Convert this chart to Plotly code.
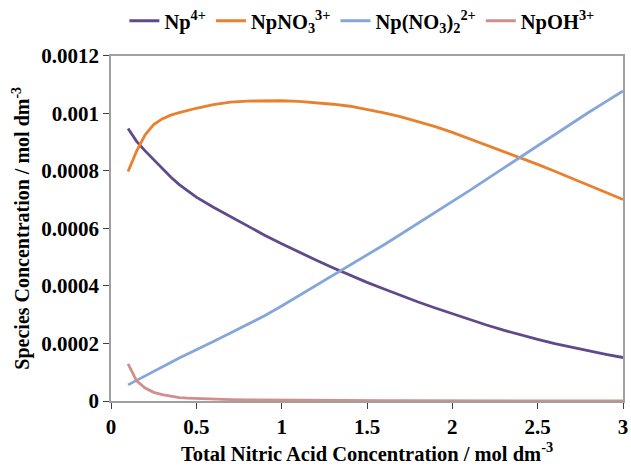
import plotly.graph_objects as go

x_hno3 = [0.1, 0.15, 0.2, 0.25, 0.3, 0.35, 0.4, 0.45, 0.5, 0.6, 0.7, 0.8, 0.9, 1.0,
          1.1, 1.2, 1.3, 1.4, 1.5, 1.6, 1.7, 1.8, 1.9, 2.0, 2.1, 2.2, 2.3, 2.4, 2.5,
          2.6, 2.7, 2.8, 2.9, 3.0]

np4 = [9.47, 9.02, 8.69, 8.38, 8.07, 7.78, 7.52, 7.30, 7.08, 6.73, 6.40, 6.08, 5.76, 5.46,
       5.17, 4.90, 4.63, 4.37, 4.12, 3.89, 3.66, 3.44, 3.23, 3.03, 2.83, 2.64, 2.46, 2.29, 2.14,
       1.99, 1.86, 1.73, 1.62, 1.51]

npno3 = [7.97, 8.68, 9.25, 9.60, 9.80, 9.93, 10.02, 10.10, 10.17, 10.30, 10.38, 10.42, 10.43, 10.43,
         10.41, 10.37, 10.31, 10.24, 10.13, 10.01, 9.87, 9.71, 9.53, 9.33, 9.11, 8.89, 8.67, 8.45, 8.22,
         7.98, 7.74, 7.50, 7.25, 7.00]

npno3_2 = [0.56, 0.72, 0.88, 1.04, 1.19, 1.34, 1.49, 1.64, 1.78, 2.07, 2.36, 2.65, 2.96, 3.30,
           3.65, 4.00, 4.35, 4.70, 5.06, 5.43, 5.80, 6.17, 6.54, 6.92, 7.31, 7.70, 8.09, 8.49, 8.88,
           9.27, 9.65, 10.03, 10.40, 10.77]

npoh = [1.29, 0.70, 0.45, 0.30, 0.22, 0.16, 0.12, 0.10, 0.085, 0.065, 0.05, 0.04, 0.033, 0.027,
        0.022, 0.018, 0.015, 0.013, 0.011, 0.0095, 0.008, 0.007, 0.006, 0.0052, 0.0045, 0.004, 0.0035, 0.003, 0.0027,
        0.0024, 0.0021, 0.0019, 0.0017, 0.0015]

scale = 1e-4
series_names = ["Np<sup>4+</sup>", "NpNO<sub>3</sub><sup>3+</sup>",
                "Np(NO<sub>3</sub>)<sub>2</sub><sup>2+</sup>", "NpOH<sup>3+</sup>"]
series_vals = [np4, npno3, npno3_2, npoh]
colors = ["#5F4A8B", "#E8812E", "#86A6D8", "#D38D8C"]

y_tickvals = [0, 0.0002, 0.0004, 0.0006, 0.0008, 0.001, 0.0012]
y_ticktext = ["0", "0.0002", "0.0004", "0.0006", "0.0008", "0.001", "0.0012"]
x_tickvals = [0, 0.5, 1, 1.5, 2, 2.5, 3]
x_ticktext = ["0", "0.5", "1", "1.5", "2", "2.5", "3"]

fig = go.Figure()
for name, vals, c in zip(series_names, series_vals, colors):
    fig.add_trace(go.Scatter(x=x_hno3, y=[v * scale for v in vals], mode="lines",
                             name=name, line=dict(color=c, width=2.8)))

font_family = "Liberation Serif"
fig.update_layout(
    width=631, height=466,
    margin=dict(l=111, r=3, t=44, b=65),
    paper_bgcolor="white", plot_bgcolor="white",
    font=dict(family=font_family, size=21, color="black", weight="bold"),
    showlegend=True,
    legend=dict(orientation="h", x=0.49, xanchor="center", y=0.998, yanchor="top",
                yref="container", font=dict(size=20.5, family=font_family, weight="bold"),
                itemwidth=30, bgcolor="rgba(0,0,0,0)", tracegroupgap=0),
    xaxis=dict(range=[0, 3], tickvals=x_tickvals, ticktext=x_ticktext,
               showline=True, linecolor="#A0A0A0", linewidth=1.5, mirror=True,
               ticks="outside", ticklen=6, tickcolor="#404040",
               tickfont=dict(size=21), ticklabeloverflow="allow",
               showgrid=False, zeroline=False,
               title=dict(text="Total Nitric Acid Concentration / mol dm<sup>-3</sup>",
                          font=dict(size=20.5, family=font_family, weight="bold"), standoff=8)),
    yaxis=dict(range=[0, 0.0012], tickvals=y_tickvals, ticktext=y_ticktext,
               showline=True, linecolor="#A0A0A0", linewidth=1.5, mirror=True,
               ticks="outside", ticklen=6, tickcolor="#404040",
               tickfont=dict(size=21), ticklabeloverflow="allow",
               showgrid=False, zeroline=False,
               title=dict(text="Species Concentration / mol dm<sup>-3</sup>",
                          font=dict(size=20, family=font_family, weight="bold"), standoff=6)),
)

fig.write_html("out.html")
